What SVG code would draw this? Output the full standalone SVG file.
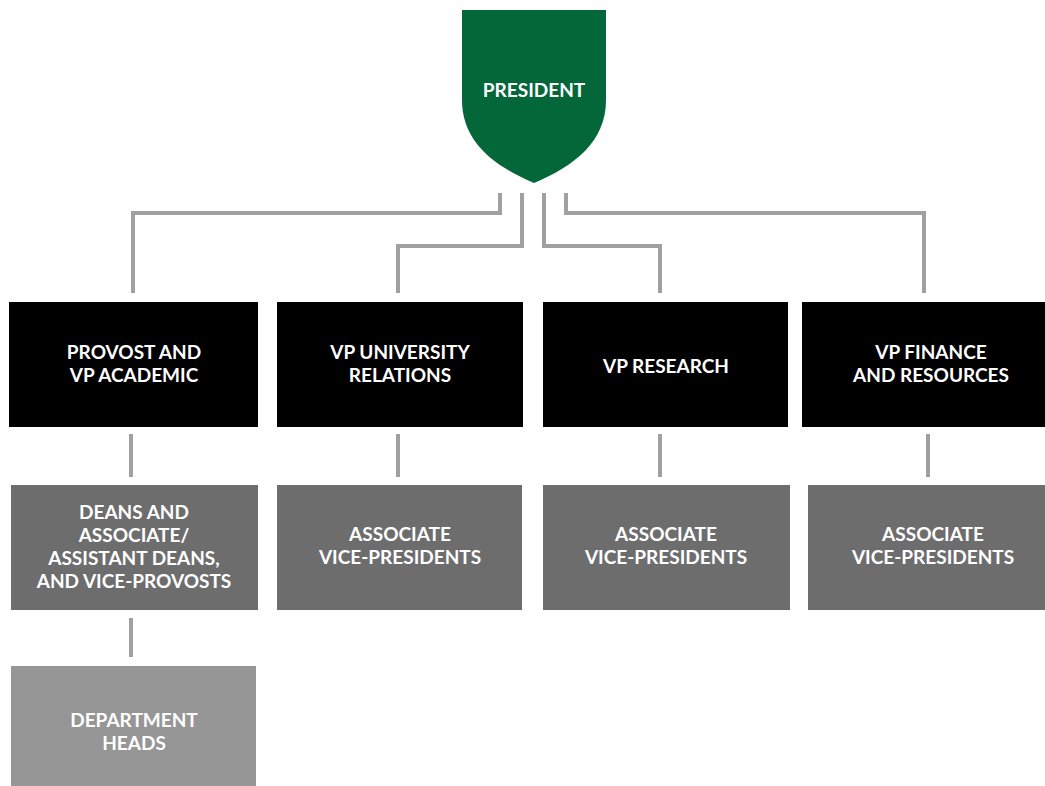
<svg xmlns="http://www.w3.org/2000/svg" width="1045" height="786" viewBox="0 0 1045 786">
<style>
.t{font-family:Lato,"Open Sans","Liberation Sans",sans-serif;font-weight:700;font-size:19px;fill:#ffffff;text-anchor:middle}
.top{fill:#000000}
.mid{fill:#6d6d6e}
.low{fill:#969696}
.c{fill:none;stroke:#a0a0a0;stroke-width:4}
</style>
<rect width="1045" height="786" fill="#ffffff"/>
<g id="connectors">
<path class="c" d="M500,193 V213 H133 V293"/>
<path class="c" d="M522,193 V246 H398 V293"/>
<path class="c" d="M544,193 V246 H660 V293"/>
<path class="c" d="M566,193 V213 H924 V293"/>
<path class="c" d="M131,434 V477"/>
<path class="c" d="M398,434 V477"/>
<path class="c" d="M660,434 V477"/>
<path class="c" d="M928,434 V477"/>
<path class="c" d="M131,618 V657"/>
</g>
<g id="president">
<path d="M462,10 H606 V100 C606,142 574,166 534,183 C494,166 462,142 462,100 Z" fill="#04673a"/>
<text class="t" x="534" y="97">PRESIDENT</text>
</g>
<g id="provost">
<rect class="top" x="9" y="302" width="249" height="125"/>
<text class="t" x="134" y="359">PROVOST AND</text>
<text class="t" x="134" y="382">VP ACADEMIC</text>
</g>
<g id="vp-relations">
<rect class="top" x="277" y="302" width="246" height="125"/>
<text class="t" x="400" y="359">VP UNIVERSITY</text>
<text class="t" x="400" y="382">RELATIONS</text>
</g>
<g id="vp-research">
<rect class="top" x="543" y="302" width="245" height="125"/>
<text class="t" x="666" y="373">VP RESEARCH</text>
</g>
<g id="vp-finance">
<rect class="top" x="802" y="302" width="260" height="125"/>
<text class="t" x="931" y="359">VP FINANCE</text>
<text class="t" x="931" y="382">AND RESOURCES</text>
</g>
<g id="deans">
<rect class="mid" x="11" y="485" width="247" height="125"/>
<text class="t" x="134" y="519">DEANS AND</text>
<text class="t" x="134" y="542">ASSOCIATE/</text>
<text class="t" x="134" y="565">ASSISTANT DEANS,</text>
<text class="t" x="134" y="588">AND VICE-PROVOSTS</text>
</g>
<g id="avp-relations">
<rect class="mid" x="277" y="485" width="245" height="125"/>
<text class="t" x="400" y="541">ASSOCIATE</text>
<text class="t" x="400" y="564">VICE-PRESIDENTS</text>
</g>
<g id="avp-research">
<rect class="mid" x="543" y="485" width="247" height="125"/>
<text class="t" x="666" y="541">ASSOCIATE</text>
<text class="t" x="666" y="564">VICE-PRESIDENTS</text>
</g>
<g id="avp-finance">
<rect class="mid" x="808" y="485" width="250" height="125"/>
<text class="t" x="933" y="541">ASSOCIATE</text>
<text class="t" x="933" y="564">VICE-PRESIDENTS</text>
</g>
<g id="department-heads">
<rect class="low" x="11" y="666" width="245" height="125"/>
<text class="t" x="134" y="727">DEPARTMENT</text>
<text class="t" x="134" y="750">HEADS</text>
</g>
</svg>
